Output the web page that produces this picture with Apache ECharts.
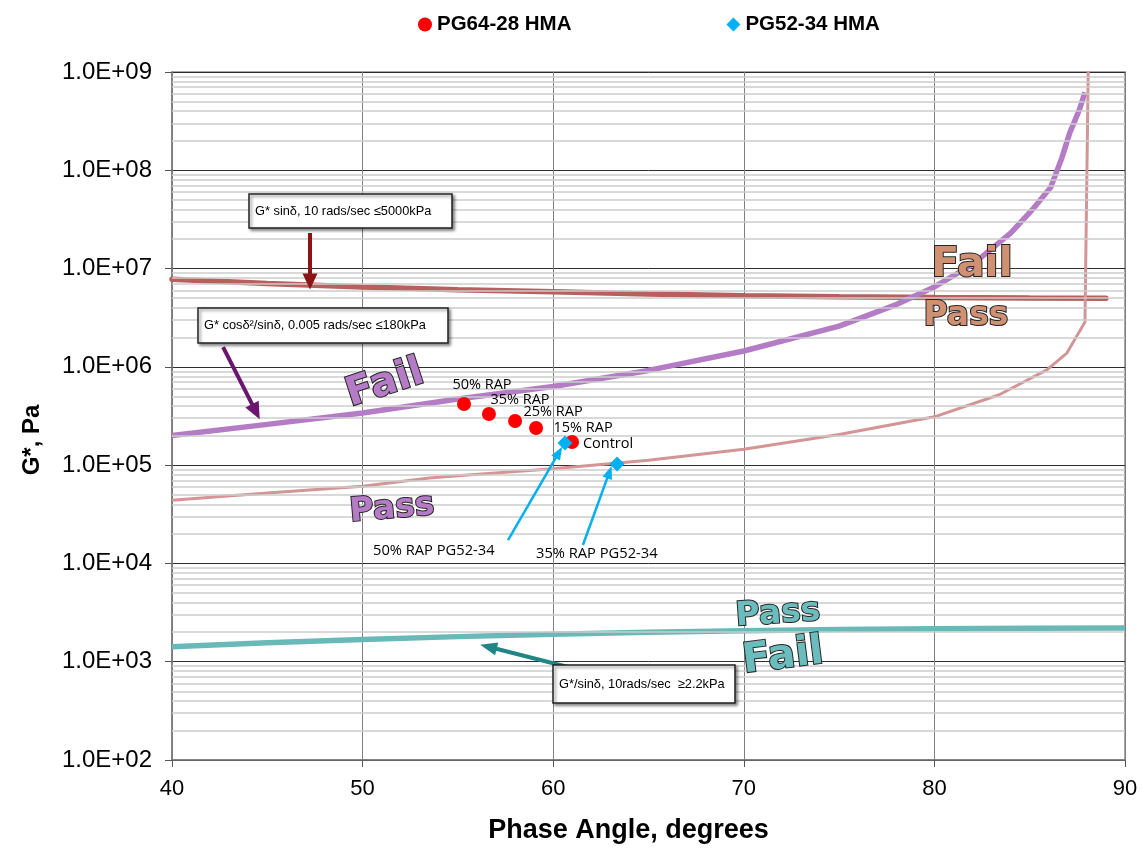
<!DOCTYPE html>
<html><head><meta charset="utf-8">
<script src="https://cdn.jsdelivr.net/npm/echarts@6/dist/echarts.min.js"></script>
<style>html,body{margin:0;padding:0;background:#fff}#c{width:1147px;height:852px}</style>
</head><body><div id="c"></div>
<script>
// ---- data ----
const xTicks = [40, 50, 60, 70, 80, 90];
const yTickExponents = [2, 3, 4, 5, 6, 7, 8, 9];

// G* sin(delta) <= 5000 kPa limit line
const sinLimitX = [40, 45, 50, 55, 60, 65, 70, 75, 80, 85, 89];
const sinLimitY = [7.8e6, 7.05e6, 6.5e6, 6.1e6, 5.8e6, 5.5e6, 5.3e6, 5.18e6, 5.08e6, 5.02e6, 5.0e6];

// G* cos^2/sin limit (purple)
const cosLimitX = [40, 45, 50, 55, 60, 65, 70, 75, 78, 80, 82, 84, 85.2, 86.1, 86.7, 87.1, 87.6, 87.9];
const cosLimitY = [2.0e5, 2.6e5, 3.4e5, 4.7e5, 6.3e5, 9.2e5, 1.45e6, 2.6e6, 4.3e6, 6.5e6, 1.1e7, 2.3e7, 4.1e7, 6.7e7, 1.36e8, 2.4e8, 4.1e8, 6.2e8];

// lower pink pass/fail curve
const pinkX = [40, 45, 50, 53.5, 55, 60, 65, 70, 75, 80, 83.4, 85.9, 86.95, 87.9, 88.07];
const pinkY = [4.4e4, 5.2e4, 6.1e4, 7.4e4, 7.8e4, 9.2e4, 1.12e5, 1.45e5, 2.05e5, 3.1e5, 5.2e5, 9.3e5, 1.38e6, 2.86e6, 1.0e9];

// G*/sin(delta) >= 2.2 kPa (teal)
const tealX = [40, 45, 50, 55, 60, 65, 70, 75, 80, 85, 90];
const tealY = [1.42e3, 1.56e3, 1.68e3, 1.8e3, 1.9e3, 1.99e3, 2.07e3, 2.13e3, 2.17e3, 2.19e3, 2.2e3];

// PG64-28 HMA points
const pg64Names = ['50% RAP', '35% RAP', '25% RAP', '15% RAP', 'Control'];
const pg64X = [55.32, 56.63, 58.0, 59.1, 60.99];
const pg64Y = [4.19e5, 3.31e5, 2.81e5, 2.39e5, 1.72e5];

// PG52-34 HMA points
const pg52Names = ['50% RAP PG52-34', '35% RAP PG52-34'];
const pg52X = [60.62, 63.35];
const pg52Y = [1.68e5, 1.03e5];

// ---- layout / styling helpers ----
const pg64LabelOffsets = [[18, -19], [31, -14], [38, -9], [47, 0], [36, 2]];
const zip = (xs, ys) => xs.map((x, i) => [x, ys[i]]);

const minorVals = [];
for (let e = 2; e < 9; e++) for (let k = 2; k <= 9; k++) minorVals.push(k * Math.pow(10, e));

const arrows = [
  { from: [47.24, 2.3e7], to: [47.24, 7.4e6], color: '#8b1414', width: 4, size: [15, 16] },
  { from: [42.68, 1.59e6], to: [44.4, 3.5e5], color: '#6a1670', width: 4, size: [15, 17] },
  { from: [60.72, 890], to: [56.6, 1420], color: '#1f8585', width: 4, size: [13, 17] },
  { from: [57.63, 1.73e4], to: [60.3, 1.35e5], color: '#00b0f0', width: 2.5, size: [10, 13] },
  { from: [61.56, 1.54e4], to: [62.95, 8.5e4], color: '#00b0f0', width: 2.5, size: [10, 13] }
];

const wordFont = 'DejaVu Sans, sans-serif';
function bigWord(text, x, y, deg, size, fill) {
  return {
    type: 'text', x: x, y: y, rotation: deg * Math.PI / 180, z: 50,
    style: { text: text, fill: fill, stroke: '#262626', lineWidth: 2,
      font: '900 ' + size + 'px ' + wordFont, align: 'center', verticalAlign: 'middle' }
  };
}
function box(x, y, w, h, text) {
  return {
    type: 'group', z: 60, children: [
      { type: 'rect', z: 60, shape: { x: x, y: y, width: w, height: h },
        style: { fill: '#fff', stroke: '#222', lineWidth: 1.5, shadowBlur: 3, shadowOffsetX: 2, shadowOffsetY: 2, shadowColor: 'rgba(0,0,0,0.45)' } },
      { type: 'text', z: 61, x: x + 6, y: y + h / 2,
        style: { text: text, fill: '#000', font: '12.8px Liberation Sans, Arial, sans-serif', verticalAlign: 'middle' } }
    ]
  };
}
function note(x, y, text) {
  return { type: 'text', x: x, y: y, z: 50,
    style: { text: text, fill: '#000', font: '14.7px Open Sans, sans-serif', verticalAlign: 'middle' } };
}

const chart = echarts.init(document.getElementById('c'), null, { renderer: 'canvas' });
chart.setOption({
  animation: false,
  backgroundColor: '#fff',
  grid: { left: 172, right: 22, top: 72, bottom: 92, show: true, borderColor: '#8a8a8a', borderWidth: 1.5, containLabel: false },
  legend: {
    data: ['PG64-28 HMA', 'PG52-34 HMA'], left: 413, top: 9, itemGap: 155, itemWidth: 14, itemHeight: 14,
    textStyle: { fontSize: 20.5, fontWeight: 'bold', color: '#000', fontFamily: 'Liberation Sans, Arial, sans-serif' }
  },
  xAxis: {
    type: 'value', min: xTicks[0], max: xTicks[xTicks.length - 1], interval: 10,
    name: 'Phase Angle, degrees', nameLocation: 'middle', nameGap: 57,
    nameTextStyle: { fontSize: 27, fontWeight: 'bold', color: '#000', fontFamily: 'Liberation Sans, Arial, sans-serif', padding: [0, 40, 0, 0] },
    axisLine: { show: true, onZero: false, lineStyle: { color: '#7a7a7a', width: 1.5 } },
    axisTick: { show: true, length: 7, lineStyle: { color: '#555' } },
    axisLabel: { fontSize: 22, margin: 18, color: '#000', fontFamily: 'Liberation Sans, Arial, sans-serif' },
    splitLine: { show: true, lineStyle: { color: '#7f7f7f', width: 1 } }
  },
  yAxis: {
    type: 'log', logBase: 10, min: Math.pow(10, yTickExponents[0]), max: Math.pow(10, yTickExponents[yTickExponents.length - 1]),
    name: 'G*, Pa', nameLocation: 'middle', nameGap: 128,
    nameTextStyle: { fontSize: 24, fontWeight: 'bold', color: '#000', fontFamily: 'Liberation Sans, Arial, sans-serif', padding: [0, 48, 0, 0] },
    axisLine: { show: true, lineStyle: { color: '#7a7a7a', width: 1.5 } },
    axisTick: { show: true, length: 7, lineStyle: { color: '#555' } },
    axisLabel: {
      fontSize: 24, margin: 20, color: '#000', fontFamily: 'Liberation Sans, Arial, sans-serif',
      formatter: v => { const e = Math.round(Math.log10(v)); return '1.0E+' + (e < 10 ? '0' : '') + e; }
    },
    splitLine: { show: true, lineStyle: { color: '#2e2e2e', width: 1 } }
  },
  series: [
    { name: 'minor', type: 'line', data: [], z: 1, silent: true,
      markLine: { silent: true, symbol: 'none', label: { show: false }, animation: false,
        lineStyle: { color: '#cdcdcd', width: 1.6, type: 'solid' },
        data: minorVals.map(v => ({ yAxis: v })) } },
    { name: 'G* sinδ limit', type: 'line', data: zip(sinLimitX, sinLimitY), symbol: 'none', z: 3,
      lineStyle: { color: '#b8605e', width: 5.5, cap: 'round' } },
    { name: 'G* cos limit', type: 'line', data: zip(cosLimitX, cosLimitY), symbol: 'none', z: 3,
      lineStyle: { color: '#b57cc6', width: 5.5 } },
    { name: 'pink limit', type: 'line', data: zip(pinkX, pinkY), symbol: 'none', z: 3,
      lineStyle: { color: '#d39595', width: 3 } },
    { name: 'G*/sinδ limit', type: 'line', data: zip(tealX, tealY), symbol: 'none', z: 3,
      lineStyle: { color: '#6ab9b9', width: 5.5 } },
    { name: 'arrows', type: 'line', data: [], z: 4, silent: true,
      markLine: { silent: true, animation: false, symbol: ['none', 'triangle'], label: { show: false },
        data: arrows.map(a => [
          { coord: a.from, lineStyle: { color: a.color, width: a.width, type: 'solid' }, symbolSize: a.size },
          { coord: a.to, lineStyle: { color: a.color, width: a.width, type: 'solid' }, symbolSize: a.size, itemStyle: { color: a.color } }
        ]) } },
    { name: 'PG64-28 HMA', type: 'scatter', symbol: 'circle', symbolSize: 14, z: 5,
      itemStyle: { color: '#ff0000', opacity: 1 },
      data: pg64X.map((x, i) => ({ value: [x, pg64Y[i]],
        label: { show: true, formatter: pg64Names[i], position: 'inside', offset: pg64LabelOffsets[i],
          color: '#000', fontSize: 14.5, fontFamily: 'Open Sans, sans-serif' } })) },
    { name: 'PG52-34 HMA', type: 'scatter', symbol: 'diamond', symbolSize: 15, z: 6,
      itemStyle: { color: '#00b0f0', opacity: 1 },
      data: zip(pg52X, pg52Y) }
  ],
  graphic: [
    bigWord('Fail', 385, 384, 18, 40, '#b57bc6'),
    bigWord('Pass', 392, 509, 5, 33, '#b57bc6'),
    bigWord('Fail', 972, 265, 0, 41, '#d09172'),
    bigWord('Pass', 966, 316, 0, 33, '#d09172'),
    bigWord('Pass', 778, 614, 4, 33, '#6bbdbd'),
    bigWord('Fail', 783, 657, 7, 41, '#6bbdbd'),
    box(249, 194, 203, 34, 'G* sinδ, 10 rads/sec ≤5000kPa'),
    box(198, 308, 250, 35, 'G* cosδ²/sinδ, 0.005 rads/sec ≤180kPa'),
    box(553, 665, 182, 38, 'G*/sinδ, 10rads/sec  ≥2.2kPa'),
    note(373, 551, pg52Names[0]),
    note(536, 554, pg52Names[1])
  ]
});
</script></body></html>
